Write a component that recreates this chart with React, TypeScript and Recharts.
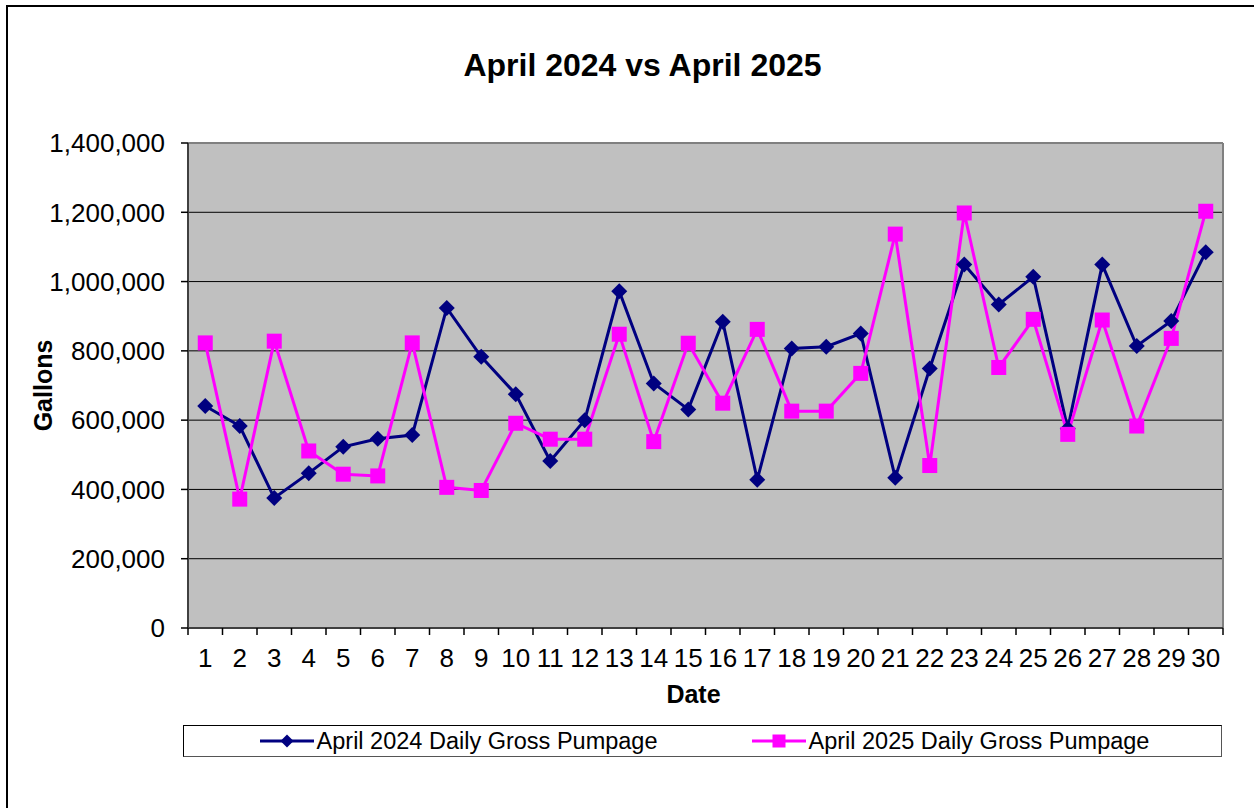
import { LineChart, Line, XAxis, YAxis, CartesianGrid, ReferenceLine } from "recharts";

const DAYS = [1, 2, 3, 4, 5, 6, 7, 8, 9, 10, 11, 12, 13, 14, 15, 16, 17, 18, 19, 20, 21, 22, 23, 24, 25, 26, 27, 28, 29, 30];

const PUMP_2024 = [
  641000, 583000, 375000, 447000, 523000, 546000, 557000, 924000, 783000, 675000,
  482000, 600000, 972000, 706000, 631000, 884000, 428000, 807000, 812000, 850000,
  434000, 749000, 1049000, 934000, 1014000, 575000, 1049000, 814000, 886000, 1085000,
];

const PUMP_2025 = [
  823000, 372000, 828000, 511000, 444000, 439000, 823000, 406000, 397000, 591000,
  545000, 545000, 848000, 538000, 822000, 649000, 862000, 626000, 626000, 735000,
  1137000, 469000, 1198000, 752000, 891000, 559000, 889000, 583000, 836000, 1203000,
];

const Y_TICKS = [0, 200000, 400000, 600000, 800000, 1000000, 1200000, 1400000];

const SERIES = [
  { key: "y2024", name: "April 2024 Daily Gross Pumpage", color: "#000080", marker: "diamond" },
  { key: "y2025", name: "April 2025 Daily Gross Pumpage", color: "#FF00FF", marker: "square" },
];

const data = DAYS.map((day, i) => ({ day, y2024: PUMP_2024[i], y2025: PUMP_2025[i] }));

const W = 1254;
const H = 808;
const PLOT_LEFT = 188;
const PLOT_RIGHT = 1223;
const PLOT_TOP = 143;
const PLOT_BOTTOM = 628;
const HALF_BAND = (PLOT_RIGHT - PLOT_LEFT) / DAYS.length / 2;
const TICK = 7;
const X_TICK_MARGIN = 14;
const FONT = "Arial, 'Liberation Sans', sans-serif";

function Marker({ type, cx, cy, color, r }: { type: string; cx: number; cy: number; color: string; r: number }) {
  if (type === "diamond") {
    return <path d={`M${cx},${cy - r}L${cx + r},${cy}L${cx},${cy + r}L${cx - r},${cy}Z`} fill={color} />;
  }
  return <rect x={cx - r} y={cy - r} width={r * 2} height={r * 2} fill={color} />;
}

function DayTick(props: any) {
  const { x, y, payload, index } = props;
  const axisY = y - TICK - X_TICK_MARGIN;
  return (
    <g>
      <line x1={x - HALF_BAND} x2={x - HALF_BAND} y1={axisY} y2={axisY + TICK} stroke="#000" strokeWidth={1.5} />
      {index === DAYS.length - 1 && (
        <line x1={x + HALF_BAND} x2={x + HALF_BAND} y1={axisY} y2={axisY + TICK} stroke="#000" strokeWidth={1.5} />
      )}
      <text x={x} y={y} dy="0.71em" textAnchor="middle" fontSize={26} fill="#000" fontFamily={FONT}>
        {payload.value}
      </text>
    </g>
  );
}

function LegendIcon({ color, marker }: { color: string; marker: string }) {
  return (
    <svg width={54} height={20} style={{ display: "block" }}>
      <line x1={0} x2={54} y1={10} y2={10} stroke={color} strokeWidth={3} />
      <Marker type={marker} cx={27} cy={10} color={color} r={marker === "diamond" ? 6.5 : 6.5} />
    </svg>
  );
}

export default function App() {
  return (
    <div style={{ position: "absolute", left: 0, top: 0, width: W, height: H, overflow: "hidden", background: "#fff", fontFamily: FONT }}>
      <div style={{ position: "absolute", left: 6, top: 5, width: 1300, height: 860, border: "2px solid #000", boxSizing: "border-box" }} />
      <div style={{ position: "absolute", left: 0, top: 50, width: 1285, textAlign: "center", fontSize: 32, lineHeight: "31px", fontWeight: "bold", color: "#000" }}>
        April 2024 vs April 2025
      </div>
      <div style={{ position: "absolute", left: 0, top: 0 }}>
        <LineChart width={W} height={H} data={data} margin={{ top: PLOT_TOP, right: W - PLOT_RIGHT, left: 0, bottom: H - PLOT_BOTTOM - 80 }}>
          <CartesianGrid vertical={false} stroke="#000" strokeWidth={1} fill="#C0C0C0" fillOpacity={1} />
          <XAxis
            dataKey="day"
            type="number"
            domain={[0.5, 30.5]}
            ticks={DAYS}
            interval={0}
            height={80}
            tickSize={TICK}
            tickMargin={X_TICK_MARGIN}
            tickLine={{ stroke: "transparent" }}
            axisLine={{ stroke: "#404040", strokeWidth: 2 }}
            tick={<DayTick />}
            label={{
              content: (p: any) => (
                <text x={p.viewBox.x + p.viewBox.width / 2 - 12} y={p.viewBox.y + 75} textAnchor="middle" fontSize={25} fontWeight="bold" fill="#000" fontFamily={FONT}>
                  Date
                </text>
              ),
            }}
          />
          <YAxis
            width={PLOT_LEFT}
            domain={[0, 1400000]}
            ticks={Y_TICKS}
            interval={0}
            tickSize={TICK}
            tickMargin={16}
            tickFormatter={(v: number) => v.toLocaleString("en-US")}
            tick={{ fontSize: 26, fill: "#000", fontFamily: FONT }}
            tickLine={{ stroke: "#000", strokeWidth: 1.5 }}
            axisLine={{ stroke: "#404040", strokeWidth: 2 }}
            label={{
              content: (p: any) => {
                const cx = p.viewBox.x + 43;
                const cy = p.viewBox.y + p.viewBox.height / 2;
                return (
                  <text x={cx} y={cy} transform={`rotate(-90, ${cx}, ${cy})`} textAnchor="middle" dominantBaseline="central" fontSize={25} fontWeight="bold" fill="#000" fontFamily={FONT}>
                    Gallons
                  </text>
                );
              },
            }}
          />
          <ReferenceLine y={1400000} stroke="#808080" strokeWidth={2} />
          <ReferenceLine x={30.5} stroke="#808080" strokeWidth={2} />
          {SERIES.map((s) => (
            <Line
              key={s.key}
              dataKey={s.key}
              name={s.name}
              type="linear"
              stroke={s.color}
              strokeWidth={3}
              isAnimationActive={false}
              dot={(p: any) => (
                <Marker key={`${s.key}-${p.index}`} type={s.marker} cx={p.cx} cy={p.cy} color={s.color} r={s.marker === "diamond" ? 8 : 7.5} />
              )}
              activeDot={false}
            />
          ))}
        </LineChart>
      </div>
      <div
        style={{
          position: "absolute",
          left: 183,
          top: 725,
          width: 1039,
          height: 32,
          boxSizing: "border-box",
          border: "1px solid #000",
          borderRightColor: "#555",
          borderBottomColor: "#555",
          background: "#fff",
          display: "flex",
          alignItems: "center",
          justifyContent: "center",
          gap: 94,
          paddingLeft: 4,
        }}
      >
        {SERIES.map((s) => (
          <div key={s.key} style={{ display: "flex", alignItems: "center", gap: 3 }}>
            <LegendIcon color={s.color} marker={s.marker} />
            <span style={{ fontSize: 23.5, color: "#000", whiteSpace: "nowrap" }}>{s.name}</span>
          </div>
        ))}
      </div>
    </div>
  );
}
